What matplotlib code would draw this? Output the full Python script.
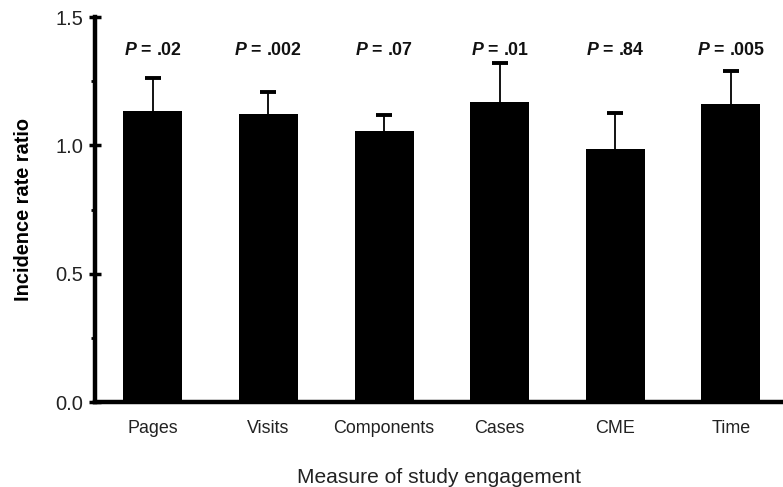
import matplotlib
matplotlib.use("Agg")
import matplotlib.pyplot as plt
from matplotlib.ticker import MultipleLocator

plt.rcParams['font.family'] = ['Liberation Sans', 'DejaVu Sans']
plt.rcParams['mathtext.fontset'] = 'custom'
plt.rcParams['mathtext.bfit'] = 'Liberation Sans:bold:italic'

# === Data ===
categories = ["Pages", "Visits", "Components", "Cases", "CME", "Time"]
irr = [1.134, 1.122, 1.056, 1.169, 0.986, 1.161]
upper_ci = [1.262, 1.208, 1.118, 1.320, 1.126, 1.289]
p_labels = [".02", ".002", ".07", ".01", ".84", ".005"]

fig = plt.figure(figsize=(7.83, 4.87), dpi=100)
ax = fig.add_axes([0.1213, 0.1745, 0.8787, 0.7905])

x = list(range(len(categories)))
err_up = [u - v for u, v in zip(upper_ci, irr)]
err_lo = [0] * len(irr)

ax.bar(x, irr, width=0.51, color="black", zorder=2)
eb = ax.errorbar(x, irr, yerr=[err_lo, err_up], fmt="none", ecolor="black",
                 elinewidth=1.3, capsize=5.5, capthick=2.8, zorder=3)
# only the upper half of the interval is shown -> hide the lower cap
for cap in eb[1]:
    if list(cap.get_ydata()) == irr:
        cap.set_visible(False)

for xi, p in zip(x, p_labels):
    ax.text(xi, 1.37, r"$\mathbfit{P}$" + f" = {p}", ha="center", va="center",
            fontsize=12.8, fontweight="bold", color="#111111")

ax.set_xlim(-0.5, 5.45)
ax.set_ylim(0, 1.5)
ax.yaxis.set_major_locator(MultipleLocator(0.5))
ax.yaxis.set_minor_locator(MultipleLocator(0.25))
ax.set_yticks([0.0, 0.5, 1.0, 1.5])
ax.set_yticklabels(["0.0", "0.5", "1.0", "1.5"], fontsize=14.5, color="#222222")
ax.set_xticks(x)
ax.set_xticklabels(categories, fontsize=12.9, color="#222222")

for side in ["top", "right"]:
    ax.spines[side].set_visible(False)
ax.spines["left"].set_linewidth(3.2)
ax.spines["bottom"].set_linewidth(3.2)

ax.tick_params(axis="y", which="major", direction="inout", length=9, width=2.5, pad=4)
ax.tick_params(axis="y", which="minor", direction="out", length=3, width=2)
ax.tick_params(axis="x", length=0, pad=13)

ax.set_ylabel("Incidence rate ratio", fontsize=14.4, fontweight="bold", labelpad=16)
ax.set_xlabel("Measure of study engagement", fontsize=15.1, labelpad=22, color="#222222")

fig.savefig("out.png", dpi=100)
